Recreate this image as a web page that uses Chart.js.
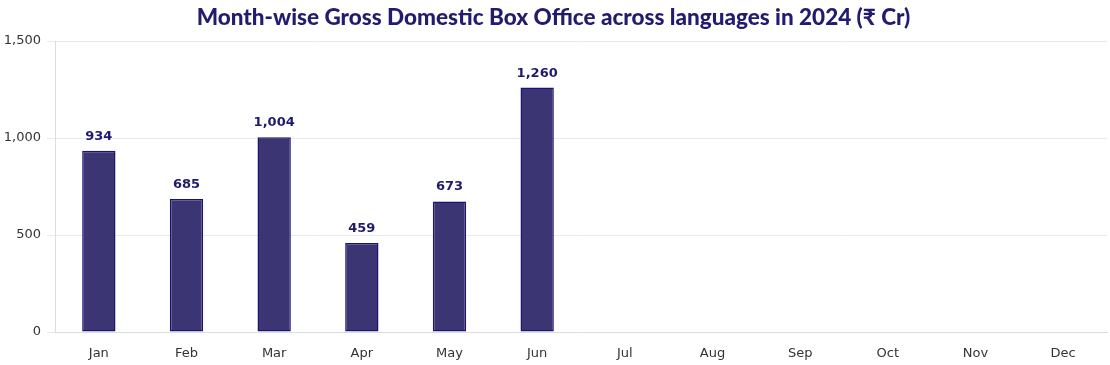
<!DOCTYPE html>
<html>
<head>
<meta charset="utf-8">
<script src="https://cdn.jsdelivr.net/npm/chart.js@4"></script>
<style>
  html, body { margin: 0; padding: 0; background: #fff; }
  #wrap { width: 1110px; height: 365px; }
</style>
</head>
<body>
<div id="wrap"><canvas id="boxoffice"></canvas></div>
<script>
  const months = ['Jan', 'Feb', 'Mar', 'Apr', 'May', 'Jun', 'Jul', 'Aug', 'Sep', 'Oct', 'Nov', 'Dec'];
  const gross = [934, 685, 1004, 459, 673, 1260, null, null, null, null, null, null];
  const yTicks = [0, 500, 1000, 1500];

  // draws the value above each bar
  const valueLabels = {
    id: 'valueLabels',
    afterDatasetsDraw(chart) {
      const ctx = chart.ctx;
      const meta = chart.getDatasetMeta(0);
      ctx.save();
      ctx.font = 'bold 13px "DejaVu Sans"';
      ctx.fillStyle = '#1f1a6b';
      ctx.textAlign = 'center';
      ctx.textBaseline = 'alphabetic';
      meta.data.forEach((bar, i) => {
        const v = gross[i];
        if (v == null) return;
        ctx.fillText(v.toLocaleString('en-US'), bar.x, bar.y - 11);
      });
      ctx.restore();
    }
  };

  new Chart(document.getElementById('boxoffice'), {
    type: 'bar',
    data: {
      labels: months,
      datasets: [{
        data: gross,
        backgroundColor: '#3b3573',
        borderColor: '#1a1275',
        borderWidth: 1.5,
        borderSkipped: false,
        categoryPercentage: 1,
        barPercentage: 0.38,
      }],
    },
    options: {
      responsive: true,
      maintainAspectRatio: false,
      animation: false,
      layout: { padding: { left: 0, right: 3, top: 0, bottom: 0 } },
      plugins: {
        legend: { display: false },
        tooltip: { enabled: false },
        title: {
          display: true,
          text: 'Month-wise Gross Domestic Box Office across languages in 2024 (₹ Cr)',
          color: '#231c6e',
          font: { family: 'Lato', size: 22.5, weight: 900 },
          padding: { top: 4, bottom: 10 },
        },
      },
      scales: {
        x: {
          grid: { display: false },
          border: { color: '#d9dde3' },
          ticks: { color: '#333', font: { family: 'DejaVu Sans', size: 13 }, padding: 6 },
          afterFit: (axis) => { axis.height = 33; },
        },
        y: {
          min: 0,
          max: 1500,
          afterBuildTicks: (axis) => { axis.ticks = yTicks.map((v) => ({ value: v })); },
          afterFit: (axis) => { axis.width = 55; },
          grid: { color: '#e8eaee', tickLength: 8 },
          border: { color: '#d9dde3' },
          ticks: {
            color: '#333',
            font: { family: 'DejaVu Sans', size: 13 },
            padding: 6,
            callback: (v) => v.toLocaleString('en-US'),
          },
        },
      },
    },
    plugins: [valueLabels],
  });
</script>
</body>
</html>
